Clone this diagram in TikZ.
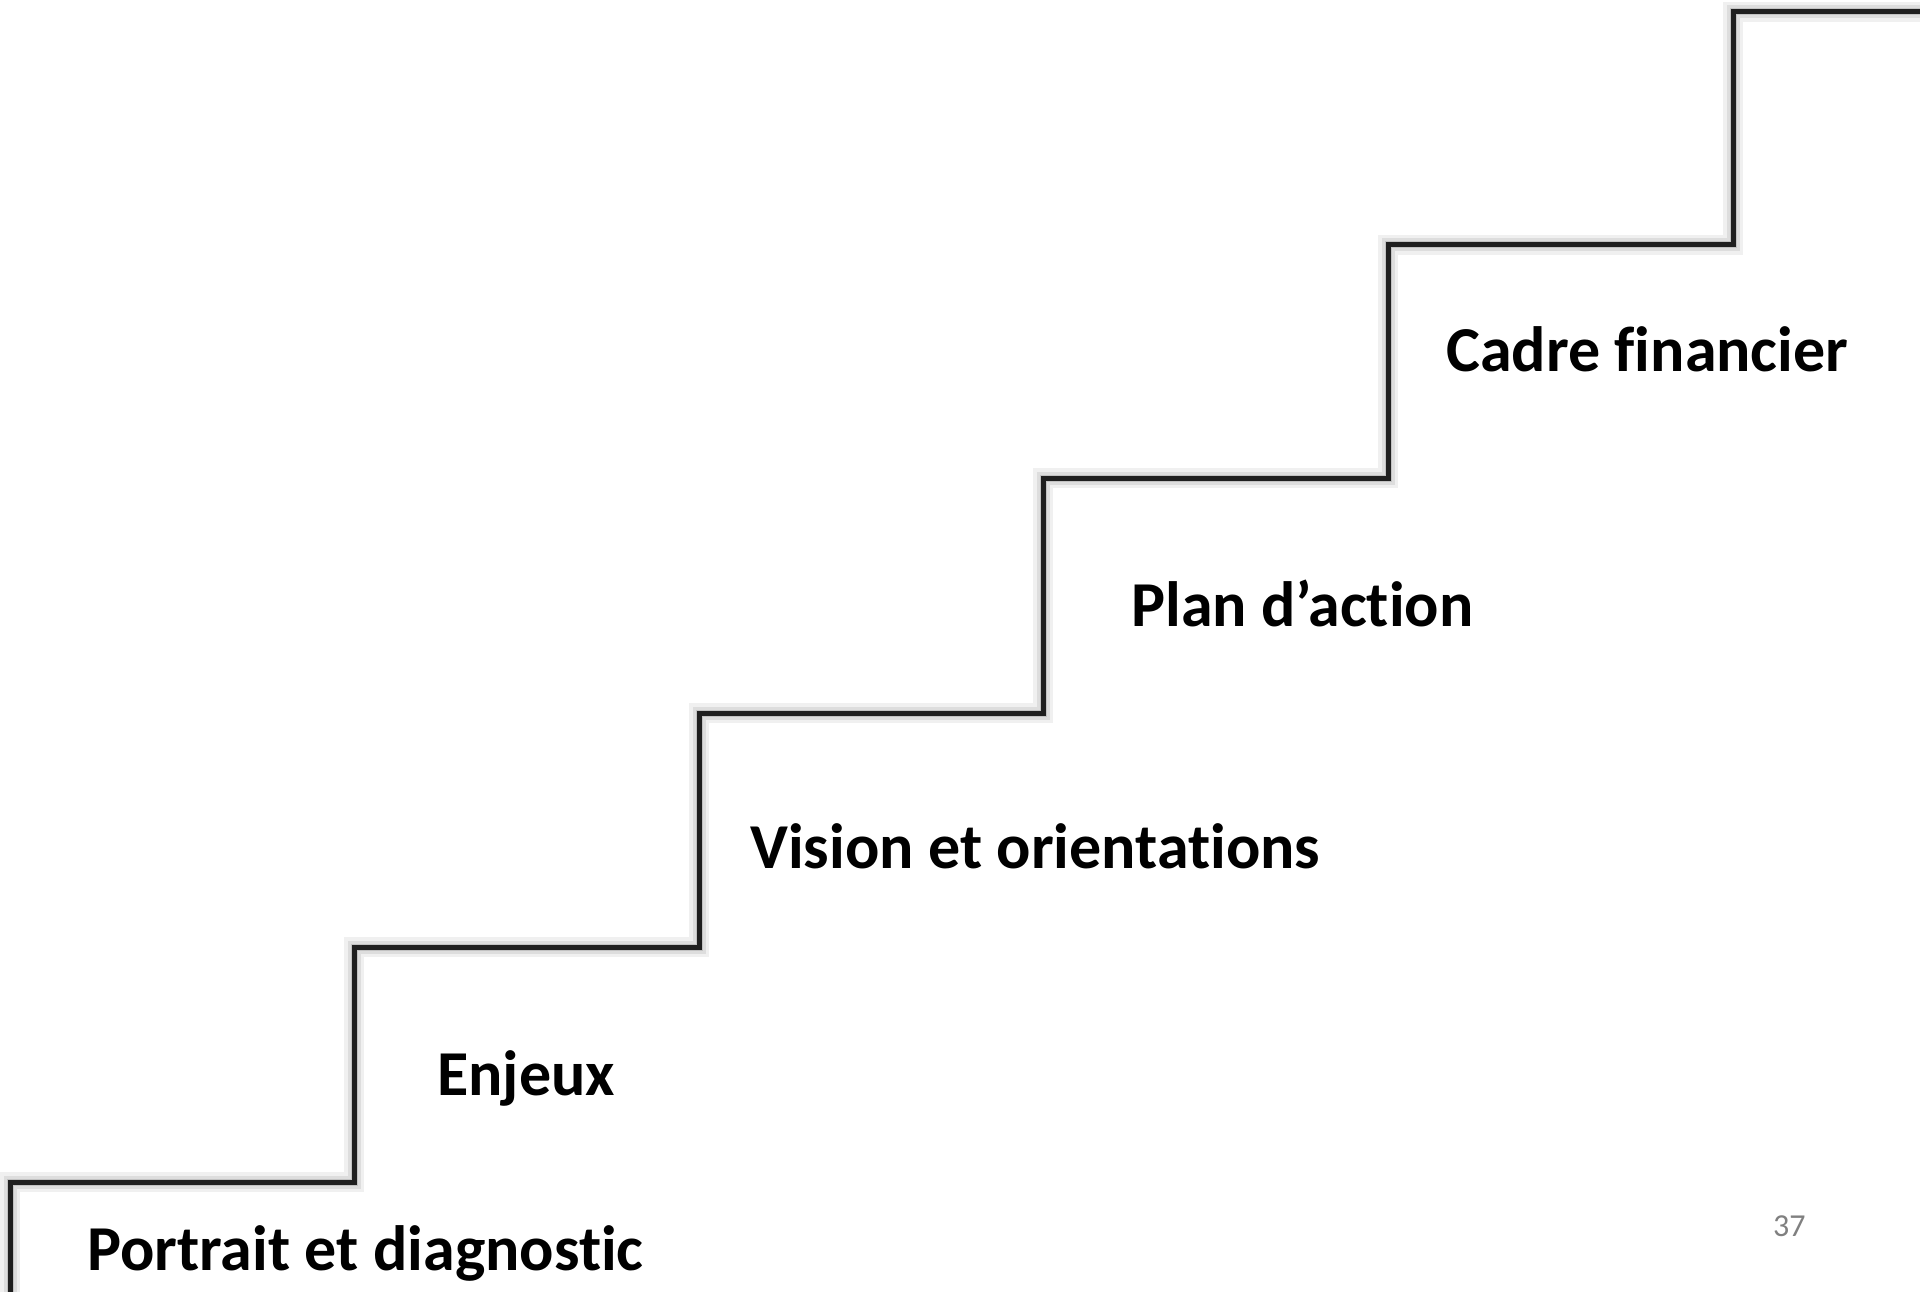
\documentclass[tikz,border=0pt]{standalone}
\usepackage{fontspec}
\setmainfont[Ligatures={NoCommon}]{Carlito}
\usetikzlibrary{positioning}

\begin{document}
\begin{tikzpicture}[x=1pt, y=-1pt,
                    steplabel/.style={anchor=base west, inner sep=0pt, font=\fontsize{64}{66}\selectfont\bfseries},
                    stairline/.style={draw=black!88, line width=5pt, line join=miter},
                    stairshadow/.style={draw=black, line join=miter}
                ]
                    \useasboundingbox (0,0) rectangle (1920,1292);
                    % corners of the stairs
                    \coordinate (s0) at (10,1300);
                    \coordinate (s1) at (10,1182);
                    \coordinate (s2) at (354,1182);
                    \coordinate (s3) at (354,947);
                    \coordinate (s4) at (699,947);
                    \coordinate (s5) at (699,713);
                    \coordinate (s6) at (1043,713);
                    \coordinate (s7) at (1043,478);
                    \coordinate (s8) at (1388,478);
                    \coordinate (s9) at (1388,245);
                    \coordinate (s10) at (1733,245);
                    \coordinate (s11) at (1733,12);
                    \coordinate (s12) at (1930,12);
                    % soft shadow
                    \draw[stairshadow, line width=20pt, draw opacity=0.06, shift={(9,10)}] (s0) -- (s1) -- (s2) -- (s3) -- (s4) -- (s5) -- (s6) -- (s7) -- (s8) -- (s9) -- (s10) -- (s11) -- (s12);
                    \draw[stairshadow, line width=13pt, draw opacity=0.08, shift={(8,8)}] (s0) -- (s1) -- (s2) -- (s3) -- (s4) -- (s5) -- (s6) -- (s7) -- (s8) -- (s9) -- (s10) -- (s11) -- (s12);
                    \draw[stairshadow, line width=7pt, draw opacity=0.12, shift={(6,6)}] (s0) -- (s1) -- (s2) -- (s3) -- (s4) -- (s5) -- (s6) -- (s7) -- (s8) -- (s9) -- (s10) -- (s11) -- (s12);
                    % stairs
                    \draw[stairline] (s0) -- (s1) -- (s2) -- (s3) -- (s4) -- (s5) -- (s6) -- (s7) -- (s8) -- (s9) -- (s10) -- (s11) -- (s12);
                    % labels
                    \node[steplabel] (portrait) at (87,1270) {Portrait et diagnostic};
                    \node[steplabel] (enjeux) at (437,1095) {Enjeux};
                    \node[steplabel] (vision) at (750,868) {Vision et orientations};
                    \node[steplabel] (plan) at (1131,626) {Plan d’action};
                    \node[steplabel] (cadre) at (1446,371) {Cadre financier};
                    \node[anchor=base west, inner sep=0pt, text=black!50, font=\fontsize{32}{34}\selectfont] (page) at (1773,1236) {37};
                \end{tikzpicture}
\end{document}
